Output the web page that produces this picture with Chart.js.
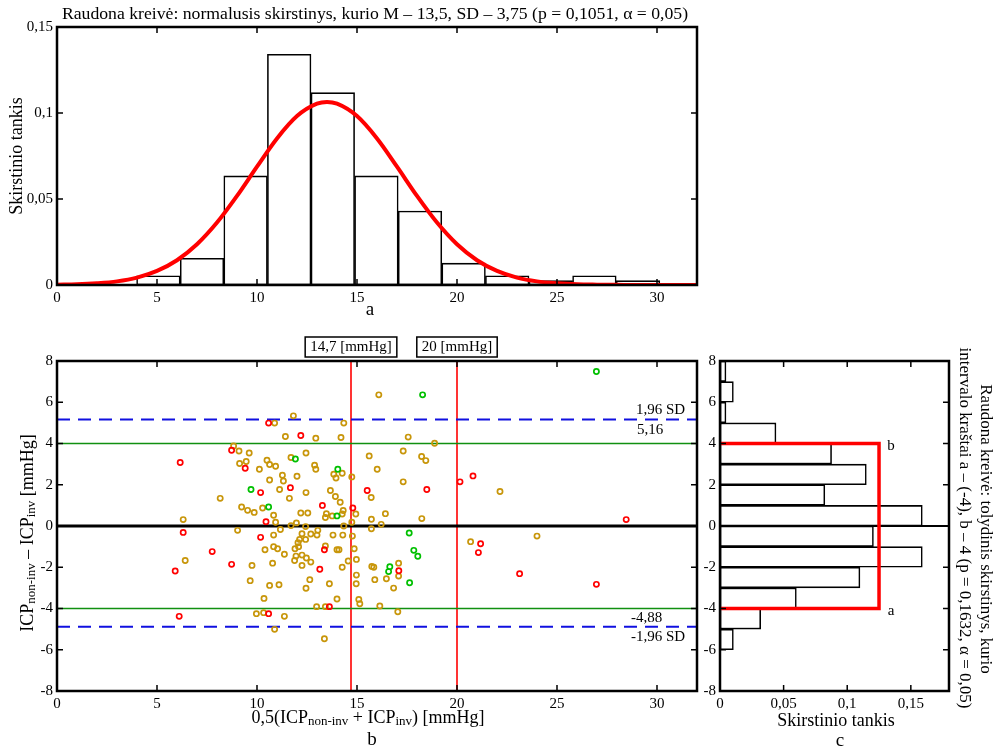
<!DOCTYPE html>
<html lang="lt">
<head>
<meta charset="UTF-8">
<title>ICP skirstiniai</title>
<script src="https://cdn.jsdelivr.net/npm/chart.js"></script>
<style>
  body { margin: 0; background: #fff; }
  #wrap { position: relative; width: 999px; height: 749px; overflow: hidden; }
  canvas { position: absolute; left: 0; top: 0; }
</style>
</head>
<body>
<div id="wrap">
  <canvas id="histTop" width="999" height="749"></canvas>
  <canvas id="scatter" width="999" height="749"></canvas>
  <canvas id="histSide" width="999" height="749"></canvas>
</div>
<script>
// --- (a) histogram of mean ICP with normal curve ---
const topBinCenters = [5.07, 7.25, 9.43, 11.61, 13.79, 15.97, 18.15, 20.33, 22.51, 24.69, 26.87, 29.05];
const topBinDensity = [0.0054, 0.0155, 0.0634, 0.1341, 0.1118, 0.0634, 0.043, 0.0127, 0.0054, 0.0025, 0.0054, 0.0025];
const curveX = [0, 1, 2, 3, 4, 5, 6, 7, 8, 9, 10, 11, 12, 13, 13.5, 14, 15, 16, 17, 18, 19, 20, 21, 22, 23, 24, 25, 26, 27, 28, 29, 30, 32];
const curveY = [0.0002, 0.0004, 0.001, 0.0021, 0.0043, 0.0082, 0.0144, 0.0237, 0.0363, 0.0518, 0.0688, 0.0852, 0.0982, 0.1054, 0.1064, 0.1054, 0.0982, 0.0852, 0.0688, 0.0518, 0.0363, 0.0237, 0.0144, 0.0082, 0.0043, 0.0021, 0.001, 0.0004, 0.0002, 0.0001, 0, 0, 0];

// --- (b) difference vs mean ---
const goldPoints = [
  [10.88,4.99],[8.83,3.88],[9.1,3.64],[9.61,3.54],[9.13,3.03],[9.46,3.13],[10.12,2.75],[10.5,3.19],[10.63,2.98],[10.93,2.9],
  [10.63,2.23],[8.16,1.34],[9.23,0.92],[9.53,0.76],[9.86,0.66],[10.28,0.87],[10.83,0.52],[10.93,0.18],[6.31,0.31],[9.03,-0.21],
  [10.83,-0.44],[10.4,-1.15],[10.83,-1.0],[11.03,-1.1],[6.41,-1.67],[9.75,-1.91],[10.78,-1.8],[9.66,-2.65],[10.63,-2.88],[11.1,-2.85],
  [10.35,-3.51],[9.97,-4.25],[10.33,-4.2],[10.88,-5.01],
  [16.09,6.36],[11.82,5.34],[14.34,4.99],[11.42,4.34],[12.94,4.26],[14.2,4.29],[11.7,3.32],[12.45,3.54],[12.88,2.95],[12.94,2.75],
  [13.84,2.51],[13.95,2.33],[14.26,2.56],[14.74,2.38],[15.61,3.4],[16.01,2.75],[15.71,1.38],[11.27,2.46],[11.32,2.18],[12.0,2.41],
  [11.13,1.77],[11.62,1.34],[12.45,1.62],[13.67,1.72],[13.92,1.43],[14.16,1.15],[14.94,0.58],[14.31,0.75],[14.26,0.58],[13.47,0.6],
  [13.42,0.41],[13.76,0.49],[12.19,0.63],[12.54,0.63],[11.97,0.15],[11.7,0.02],[11.17,-0.17],[12.43,-0.03],[14.74,0.18],[14.34,0.0],
  [15.72,0.33],[15.72,-0.13],[12.25,-0.37],[12.69,-0.39],[13.04,-0.21],[13.0,-0.44],[12.43,-0.65],[12.13,-0.65],[12.05,-0.81],[13.8,-0.44],
  [14.29,-0.44],[14.77,-0.49],[11.37,-1.37],[11.9,-1.1],[12.08,-1.0],[11.95,-1.46],[12.25,-1.41],[12.47,-1.55],[11.88,-1.67],[12.25,-1.91],
  [12.69,-1.75],[13.42,-0.97],[14.0,-1.15],[14.1,-1.15],[14.86,-1.1],[14.97,-1.62],[14.56,-1.7],[14.26,-2.0],[15.74,-1.96],[15.84,-2.0],
  [14.97,-2.38],[12.64,-2.6],[13.62,-2.8],[12.45,-3.02],[14.96,-2.8],[15.89,-2.6],[14.0,-3.54],[15.09,-3.56],[15.14,-3.77],[12.98,-3.91],
  [13.42,-3.91],[11.37,-4.38],[13.37,-5.47],[16.14,-3.88],
  [17.56,4.31],[18.88,4.01],[17.31,3.64],[18.23,3.37],[18.44,3.17],[17.31,2.14],[22.15,1.67],[16.42,0.6],[16.21,0.08],[18.24,0.36],
  [20.68,-0.76],[24.0,-0.49],[17.08,-1.8],[17.08,-2.43],[16.47,-2.56],[16.83,-3.01],[17.04,-4.16]
];
const redPoints = [
  [10.58,4.99],[8.73,3.67],[6.16,3.08],[9.41,2.8],[10.18,1.62],[10.45,0.21],[6.31,-0.31],[10.18,-0.55],[7.76,-1.24],[5.91,-2.18],
  [8.73,-1.86],[10.58,-4.25],[6.11,-4.38],
  [12.19,4.39],[11.67,1.86],[13.27,1.0],[14.79,0.87],[15.51,1.72],[13.37,-1.15],[13.14,-2.1],[13.62,-3.91],
  [18.49,1.77],[20.15,2.14],[20.8,2.43],[28.46,0.31],[21.18,-0.86],[21.07,-1.29],[17.09,-2.17],[23.13,-2.31],[26.97,-2.83]
];
const greenPoints = [
  [9.7,1.77],[10.58,0.92],[11.92,3.25],[14.04,2.75],[14.0,0.49],
  [26.97,7.49],[18.28,6.36],[17.61,-0.34],[17.84,-1.18],[18.04,-1.47],[16.64,-1.97],[16.58,-2.21],[17.63,-2.75]
];
const upperSD = 5.16, lowerSD = -4.88, limitA = -4, limitB = 4;
const markX = [14.7, 20];

// --- (c) histogram of differences ---
const sideBinCenters = [-5.5, -4.5, -3.5, -2.5, -1.5, -0.5, 0.5, 1.5, 2.5, 3.5, 4.5, 5.5, 6.5, 7.5];
const sideBinDensity = [0.0105, 0.032, 0.06, 0.11, 0.159, 0.1206, 0.159, 0.0824, 0.115, 0.0877, 0.044, 0.0047, 0.0105, 0.0047];
const uniformHeight = 0.125;

const FONT = "'Liberation Serif', 'DejaVu Serif', serif";
Chart.defaults.font.family = FONT;
Chart.defaults.font.size = 15;
Chart.defaults.color = '#000';

const GOLD = '#C8960A', RED = '#FF0000', GREEN = '#00C000';

function fmt(v) {
  return String(+v.toFixed(3)).replace('.', ',');
}

function drawRuns(ctx, parts, cx, cy, rot) {
  ctx.save();
  ctx.translate(cx, cy);
  if (rot) ctx.rotate(rot);
  ctx.fillStyle = '#000';
  ctx.textBaseline = 'middle';
  ctx.textAlign = 'left';
  let w = 0;
  parts.forEach(p => { ctx.font = p[1] + 'px ' + FONT; w += ctx.measureText(p[0]).width; });
  let x = -w / 2;
  parts.forEach(p => {
    ctx.font = p[1] + 'px ' + FONT;
    ctx.fillText(p[0], x, p[2] || 0);
    x += ctx.measureText(p[0]).width;
  });
  ctx.restore();
}

// box + inward ticks on all four sides
const frame = {
  id: 'frame',
  afterDatasetsDraw(chart) {
    const { ctx, chartArea: a, scales: { x, y } } = chart;
    ctx.save();
    ctx.strokeStyle = '#000';
    ctx.lineWidth = 1.5;
    ctx.beginPath();
    x.ticks.forEach(t => {
      const px = x.getPixelForValue(t.value);
      if (px <= a.left + 1 || px >= a.right - 1) return;
      ctx.moveTo(px, a.bottom); ctx.lineTo(px, a.bottom - 6);
      ctx.moveTo(px, a.top); ctx.lineTo(px, a.top + 6);
    });
    y.ticks.forEach(t => {
      const py = y.getPixelForValue(t.value);
      if (py <= a.top + 1 || py >= a.bottom - 1) return;
      ctx.moveTo(a.left, py); ctx.lineTo(a.left + 6, py);
      ctx.moveTo(a.right, py); ctx.lineTo(a.right - 6, py);
    });
    ctx.stroke();
    ctx.lineWidth = 2.5;
    ctx.strokeRect(a.left, a.top, a.right - a.left, a.bottom - a.top);
    ctx.restore();
  }
};

function axis(min, max, step, fixW, fixH) {
  return {
    type: 'linear', min: min, max: max, offset: false,
    grid: { display: false, drawTicks: false },
    border: { display: false },
    ticks: { stepSize: step, includeBounds: false, autoSkip: false, maxRotation: 0, padding: 4, callback: fmt },
    afterFit(s) { if (fixW) s.width = fixW; if (fixH) s.height = fixH; }
  };
}

const common = {
  responsive: false,
  animation: false,
  devicePixelRatio: 1,
  plugins: { legend: { display: false }, tooltip: { enabled: false } }
};

// (a)
new Chart(document.getElementById('histTop'), {
  type: 'bar',
  data: {
    datasets: [
      {
        type: 'line',
        data: curveX.map((v, i) => ({ x: v, y: curveY[i] })),
        borderColor: RED, borderWidth: 4, pointRadius: 0,
        cubicInterpolationMode: 'monotone', order: 0
      },
      {
        data: topBinCenters.map((v, i) => ({ x: v, y: topBinDensity[i] })),
        backgroundColor: '#fff', borderColor: '#000', borderWidth: 1.6, borderSkipped: false,
        barPercentage: 1, categoryPercentage: 1, order: 1
      }
    ]
  },
  options: Object.assign({}, common, {
    layout: { padding: { left: 7, right: 302, top: 27, bottom: 434 } },
    scales: { x: axis(0, 32, 5, 0, 30), y: axis(0, 0.15, 0.05, 50, 0) }
  }),
  plugins: [frame, {
    id: 'textA',
    afterDraw(chart) {
      const ctx = chart.ctx;
      drawRuns(ctx, [['Raudona kreivė: normalusis skirstinys, kurio M – 13,5, SD – 3,75 (p = 0,1051, α = 0,05)', 17.7]], 375, 14);
      drawRuns(ctx, [['Skirstinio tankis', 18]], 17, 156, -Math.PI / 2);
      drawRuns(ctx, [['a', 19]], 370, 310);
    }
  }]
});

// (b)
const hLine = (yv, color, w, dash) => ({
  type: 'line', showLine: true,
  data: [{ x: 0, y: yv }, { x: 32, y: yv }],
  borderColor: color, borderWidth: w, borderDash: dash || [], pointRadius: 0, order: 1
});
const vLine = (xv) => ({
  type: 'line', showLine: true,
  data: [{ x: xv, y: -8 }, { x: xv, y: 8 }],
  borderColor: RED, borderWidth: 1.6, pointRadius: 0, order: 1
});
const pts = (arr, color) => ({
  data: arr.map(p => ({ x: p[0], y: p[1] })),
  showLine: false, pointRadius: 2.6, pointBorderWidth: 1.7,
  pointBackgroundColor: 'rgba(0,0,0,0)', pointBorderColor: color, borderColor: color, order: 0
});

new Chart(document.getElementById('scatter'), {
  type: 'scatter',
  data: {
    datasets: [
      pts(greenPoints, GREEN), pts(redPoints, RED), pts(goldPoints, GOLD),
      hLine(0, '#000', 3),
      hLine(limitB, '#109010', 1.6), hLine(limitA, '#109010', 1.6),
      hLine(upperSD, '#1010E0', 2, [13, 8]), hLine(lowerSD, '#1010E0', 2, [13, 8]),
      vLine(markX[0]), vLine(markX[1])
    ]
  },
  options: Object.assign({}, common, {
    layout: { padding: { left: 7, right: 302, top: 361, bottom: 28 } },
    scales: { x: axis(0, 32, 5, 0, 30), y: axis(-8, 8, 2, 50, 0) }
  }),
  plugins: [frame, {
    id: 'textB',
    afterDraw(chart) {
      const { ctx, chartArea: a, scales: { x, y } } = chart;
      ctx.save();
      ctx.font = '15px ' + FONT;
      ctx.fillStyle = '#000';
      ctx.textBaseline = 'middle';
      ctx.textAlign = 'left';
      ctx.fillText('1,96 SD', a.right - 61, y.getPixelForValue(upperSD) - 10);
      ctx.fillText('5,16', a.right - 60, y.getPixelForValue(upperSD) + 10);
      ctx.fillText('-4,88', a.right - 66, y.getPixelForValue(lowerSD) - 9);
      ctx.fillText('-1,96 SD', a.right - 66, y.getPixelForValue(lowerSD) + 10);
      // boxed markers above the plot
      ctx.textAlign = 'center';
      ctx.lineWidth = 1.5;
      ctx.strokeStyle = '#000';
      ['14,7 [mmHg]', '20 [mmHg]'].forEach((t, i) => {
        const cx = x.getPixelForValue(markX[i]);
        const w = ctx.measureText(t).width + 10;
        ctx.fillText(t, cx, a.top - 14);
        ctx.strokeRect(cx - w / 2, a.top - 24, w, 20);
      });
      ctx.restore();
      drawRuns(ctx, [['ICP', 18], ['non-inv', 13, 4], [' – ICP', 18], ['inv', 13, 4], [' [mmHg]', 18]], 28, 533, -Math.PI / 2);
      drawRuns(ctx, [['0,5(ICP', 18], ['non-inv', 13, 4], [' + ICP', 18], ['inv', 13, 4], [') [mmHg]', 18]], 368, 718);
      drawRuns(ctx, [['b', 19]], 372, 740);
    }
  }]
});

// (c)
new Chart(document.getElementById('histSide'), {
  type: 'bar',
  data: {
    datasets: [
      {
        type: 'line', indexAxis: 'x',
        data: [{ x: 0, y: limitB }, { x: uniformHeight, y: limitB }, { x: uniformHeight, y: limitA }, { x: 0, y: limitA }],
        borderColor: RED, borderWidth: 3.5, pointRadius: 0, tension: 0, order: 0
      },
      {
        type: 'line', indexAxis: 'x',
        data: [{ x: 0, y: 0 }, { x: 0.18, y: 0 }],
        borderColor: '#000', borderWidth: 2, pointRadius: 0, order: 1
      },
      {
        data: sideBinCenters.map((v, i) => ({ x: sideBinDensity[i], y: v })),
        backgroundColor: '#fff', borderColor: '#000', borderWidth: 1.6, borderSkipped: false,
        barPercentage: 1, categoryPercentage: 1, order: 2
      }
    ]
  },
  options: Object.assign({}, common, {
    indexAxis: 'y',
    layout: { padding: { left: 696, right: 50, top: 361, bottom: 28 } },
    scales: { x: axis(0, 0.18, 0.05, 0, 30), y: axis(-8, 8, 2, 24, 0) }
  }),
  plugins: [frame, {
    id: 'textC',
    afterDraw(chart) {
      const { ctx, scales: { x, y } } = chart;
      const px = x.getPixelForValue(uniformHeight) + 12;
      drawRuns(ctx, [['b', 15]], px, y.getPixelForValue(limitB) + 3);
      drawRuns(ctx, [['a', 15]], px, y.getPixelForValue(limitA) + 3);
      drawRuns(ctx, [['Skirstinio tankis', 18]], 836, 721);
      drawRuns(ctx, [['c', 19]], 840, 741);
      drawRuns(ctx, [['Raudona kreivė: tolydinis skirstinys, kurio', 17]], 985, 529, Math.PI / 2);
      drawRuns(ctx, [['intervalo kraštai a – (-4), b – 4 (p = 0,1632, α = 0,05)', 17]], 964, 528, Math.PI / 2);
    }
  }]
});
</script>
</body>
</html>
